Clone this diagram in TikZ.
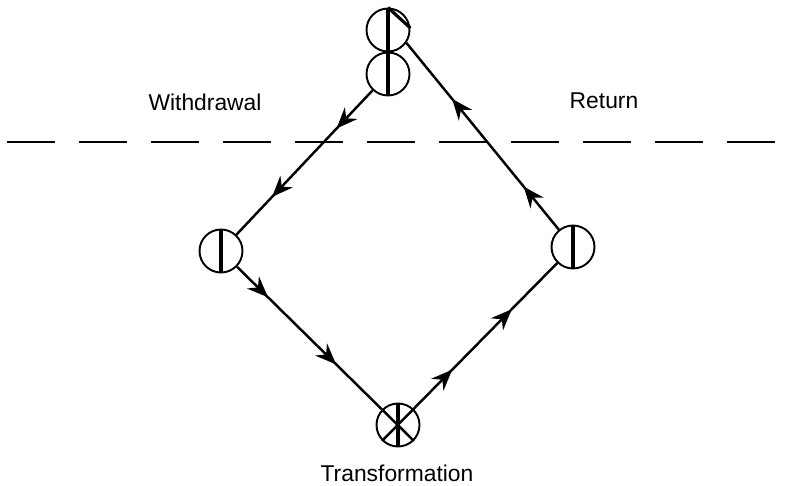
\documentclass[tikz,border=0pt]{standalone}
\usepackage{fontspec}
\setmainfont{Liberation Sans}
\usetikzlibrary{positioning, arrows.meta, decorations.markings}

\begin{document}
\begin{tikzpicture}[x=0.02cm, y=0.02cm]
	\tikzset{
		with arrows/.style 2 args={decoration={markings,
			mark=at position #1 with {\arrow{Stealth[length=4.2mm, width=3.4mm, inset=1.4mm]}},
			mark=at position #2 with {\arrow{Stealth[length=4.2mm, width=3.4mm, inset=1.4mm]}}},
			postaction={decorate}},
		station/.style={circle, draw, line width=1.1pt, minimum size=0.86cm, inner sep=0pt},
		flow/.style={line width=1.4pt},
		bar/.style={line width=1.8pt},
		label text/.style={font=\fontsize{13}{15}\selectfont}
	}
	\useasboundingbox (0,0) rectangle (790,485);
	% stations
	\node[station] (tA) at (388,455) {};
	\node[station] (tB) at (388,411) {};
	\node[station] (lL) at (221,234) {};
	\node[station] (rR) at (573,238) {};
	\node[station] (bT) at (398,60) {};
	% labels
	\node[label text] (wd) at (205,383) {Withdrawal};
	\node[label text] (rt) at (604,384) {Return};
	\node[label text, anchor=base] (tf) at (397,4) {Transformation};
	% boundary
	\coordinate (bl) at (7,343);
	\coordinate (br) at (790,343);
	\draw[line width=1.7pt, dash pattern=on 0.96cm off 0.48cm] (bl) -- (br);
	% marks inside the circles
	\draw[bar] (tA.north) -- (tB.south);
	\draw[bar] (tA.north) -- (tA.5);
	\draw[bar] (lL.north) -- (lL.south);
	\draw[bar] (rR.north) -- (rR.south);
	\draw[bar] (bT.north) -- (bT.south);
	% flows
	\draw[flow, with arrows={0.265}{0.74}] (tB) -- (lL);
	\draw[flow, with arrows={0.175}{0.56}] (lL) -- (bT.-45);
	\draw[flow, with arrows={0.40}{0.74}] (bT.-135) -- (rR);
	\draw[flow, with arrows={0.23}{0.70}] (rR) -- (tA.-35);
\end{tikzpicture}
\end{document}
